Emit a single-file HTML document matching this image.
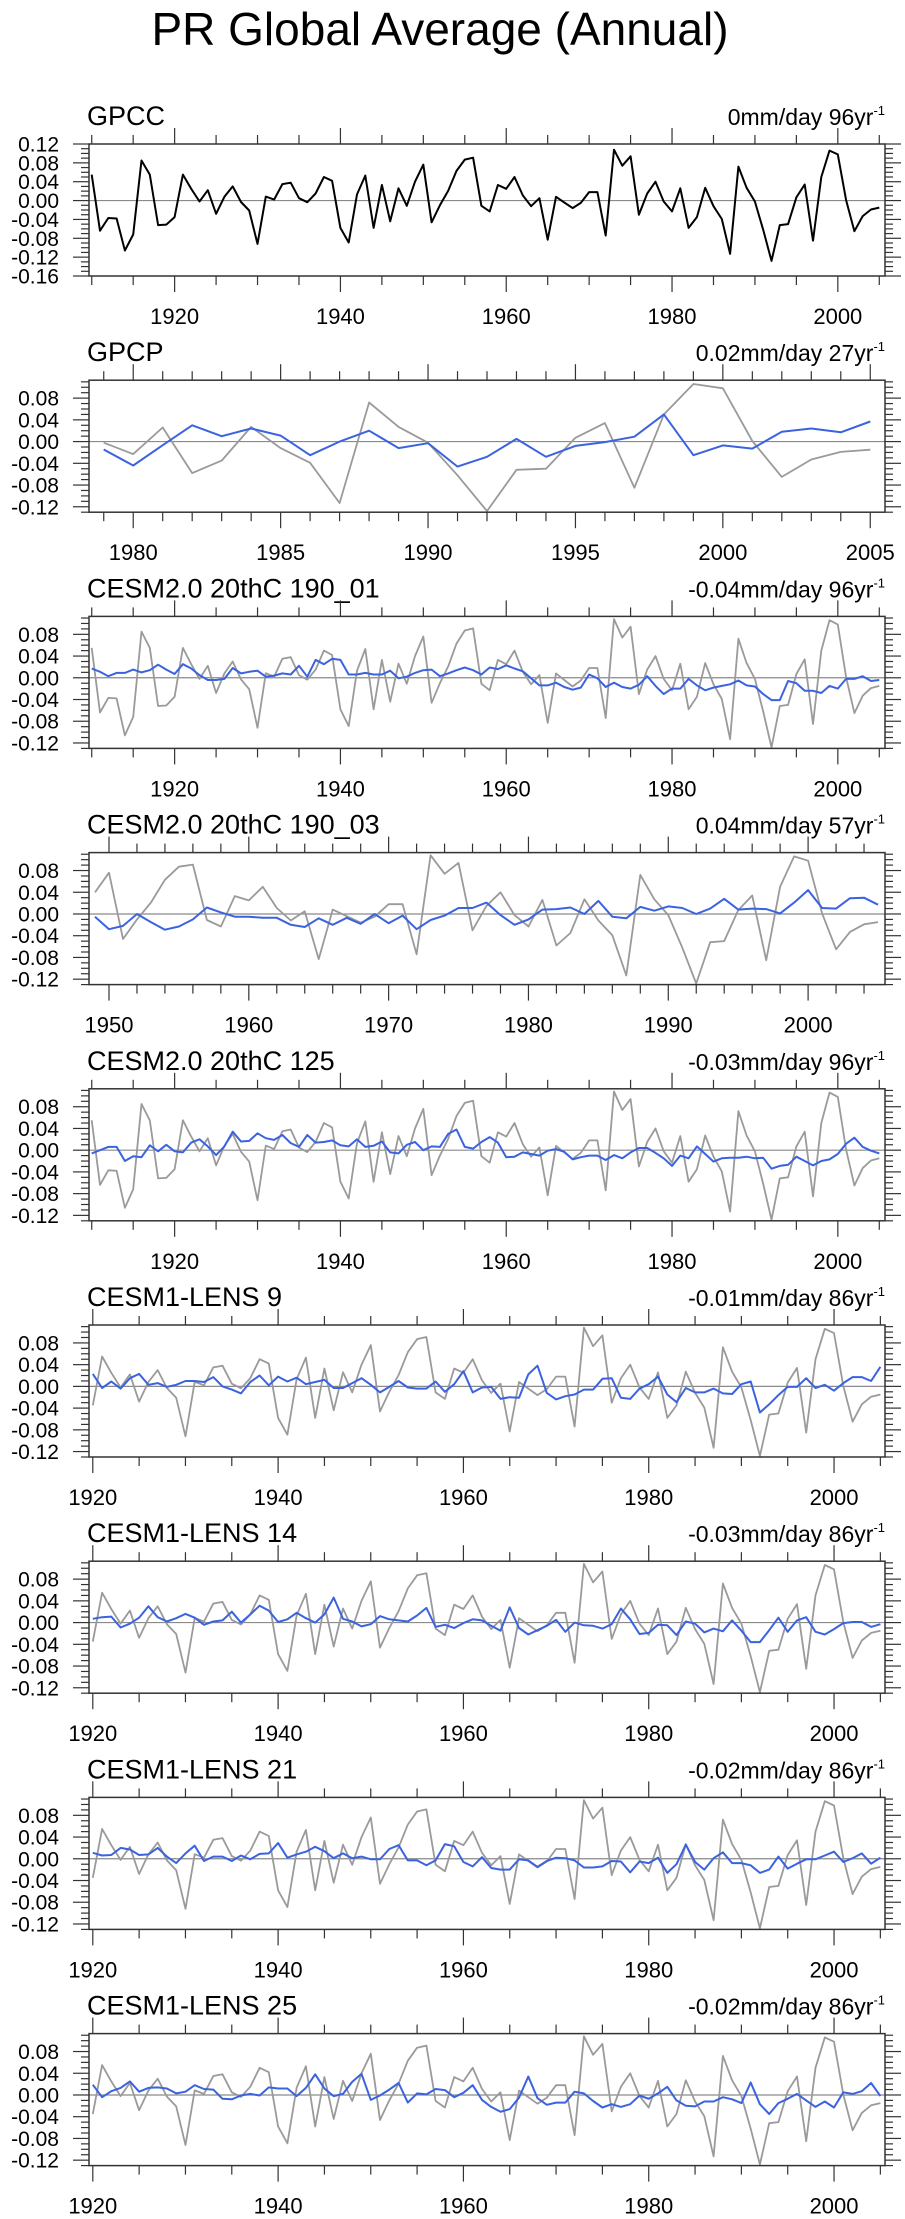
<!DOCTYPE html>
<html><head><meta charset="utf-8"><title>PR Global Average (Annual)</title>
<style>
html,body{margin:0;padding:0;background:#fff;}
svg{display:block;font-family:"Liberation Sans",Arial,sans-serif;}
</style></head>
<body>
<svg id="fig" width="905" height="2219" viewBox="0 0 905 2219" xmlns="http://www.w3.org/2000/svg">
<text x="440" y="45" font-size="46" text-anchor="middle" fill="#000">PR Global Average (Annual)</text>
</svg>
<script>
// Observed GPCC series, 1910-2005
const obsStartYear = 1910;
const obsValues = [0.055,-0.064,-0.037,-0.038,-0.106,-0.072,0.085,0.055,-0.052,-0.051,
-0.035,0.055,0.025,-0.002,0.022,-0.028,0.008,0.030,-0.003,-0.021,
-0.092,0.0085,0.002,0.035,0.038,0.005,-0.0035,0.015,0.050,0.042,
-0.058,-0.089,0.013,0.053,-0.058,0.033,-0.044,0.026,-0.011,0.040,
0.076,-0.046,-0.010,0.021,0.063,0.087,0.091,-0.011,-0.023,0.033,
0.025,0.050,0.011,-0.012,0.005,-0.083,0.008,-0.004,-0.016,-0.005,
0.018,0.018,-0.074,0.108,0.074,0.094,-0.030,0.015,0.040,-0.002,
-0.023,0.026,-0.058,-0.035,0.027,-0.012,-0.039,-0.113,0.072,0.027,
-0.002,-0.062,-0.128,-0.052,-0.050,0.007,0.034,-0.085,0.050,0.106,
0.098,0.001,-0.065,-0.033,-0.019,-0.015];

const gpcpValues = [-0.0145,-0.044,-0.0066,0.030,0.010,0.024,0.011,-0.025,0,0.020,
-0.012,-0.003,-0.046,-0.028,0.005,-0.028,-0.008,-0.001,0.009,0.050,
-0.025,-0.007,-0.013,0.018,0.024,0.017,0.037];

const cesm190_01 = [0.017,0.011,0.003,0.009,0.009,0.015,0.010,0.014,0.024,0.015,
0.007,0.025,0.017,0.005,-0.004,-0.004,-0.002,0.018,0.008,0.011,
0.013,0.002,0.004,0.008,0.006,0.022,0.002,0.033,0.025,0.035,
0.033,0.006,0.006,0.009,0.006,0.006,0.013,-0.001,0.002,0.009,
0.014,0.015,0.003,0.008,0.014,0.019,0.014,0.006,0.019,0.016,
0.023,0.017,0.012,-0.001,-0.014,-0.014,-0.009,-0.017,-0.022,-0.018,
0.006,-0.001,-0.017,-0.009,-0.017,-0.020,-0.013,0.003,-0.015,-0.030,
-0.020,-0.020,-0.002,-0.014,-0.023,-0.018,-0.015,-0.012,-0.005,-0.014,
-0.016,-0.030,-0.041,-0.041,-0.006,-0.010,-0.024,-0.024,-0.028,-0.015,
-0.020,-0.002,-0.002,0.003,-0.006,-0.004];

const cesm190_03 = [-0.005,-0.028,-0.022,0,-0.015,-0.029,-0.023,-0.010,0.012,0.003,
-0.005,-0.005,-0.007,-0.007,-0.020,-0.024,-0.008,-0.020,-0.007,-0.018,
0,-0.017,-0.003,-0.028,-0.011,-0.003,0.011,0.011,0.021,-0.002,
-0.020,-0.010,0.008,0.009,0.012,0,0.024,-0.005,-0.008,0.013,
0.006,0.014,0.011,0,0.010,0.028,0.008,0.010,0.009,0.001,
0.021,0.044,0.011,0.010,0.029,0.030,0.017];

const cesm125 = [-0.006,0,0.006,0.006,-0.020,-0.011,-0.013,0.009,-0.002,0.010,
-0.002,-0.004,0.014,0.020,0.007,-0.009,0.007,0.034,0.016,0.017,
0.031,0.022,0.019,0.028,0.013,0.006,0.028,0.014,0.015,0.018,
0.009,0.007,0.020,0.006,0.008,0.016,-0.004,-0.006,0.010,0.015,
0,0.007,0.006,0.030,0.038,0.006,0.003,0.015,0.024,0.014,
-0.013,-0.012,-0.004,-0.007,-0.010,-0.001,0.002,-0.003,-0.017,-0.013,
-0.010,-0.010,-0.018,-0.009,-0.015,-0.004,0.004,0.004,-0.005,-0.015,
-0.029,-0.010,-0.015,0.007,-0.007,-0.021,-0.015,-0.014,-0.014,-0.012,
-0.015,-0.014,-0.034,-0.029,-0.027,-0.012,-0.020,-0.028,-0.020,-0.017,
-0.007,0.012,0.023,0.006,-0.001,-0.006];

const lens9 = [0.023,-0.003,0.009,-0.004,0.015,0.023,0.003,0.006,-0.001,0.003,
0.010,0.010,0.008,0.017,0,-0.006,-0.013,0.008,0.020,0.002,
0.018,0.009,0.016,0.004,0.008,0.012,-0.003,-0.003,0.006,0.015,
0.003,-0.011,-0.001,0.010,-0.002,-0.004,-0.004,0.009,-0.010,0.004,
0.028,-0.011,-0.002,-0.001,-0.023,-0.020,-0.021,0.022,0.038,-0.012,
-0.024,-0.018,-0.015,-0.006,-0.006,0.014,0.015,-0.021,-0.023,-0.004,
0.004,0.018,-0.015,-0.029,-0.003,-0.011,-0.011,-0.004,-0.013,-0.014,
0.004,0.009,-0.048,-0.033,-0.016,-0.001,-0.001,0.015,-0.003,0.003,
-0.008,0.006,0.017,0.017,0.010,0.036];

const lens14 = [0.007,0.010,0.011,-0.009,-0.002,0.009,0.030,0.010,0.002,0.008,
0.016,0.009,-0.004,0.002,0.004,0.020,0,0.015,0.031,0.022,
0.001,0.006,0.018,0.008,0,0.015,0.046,0.007,0.002,-0.007,
-0.003,0.012,0.006,0.004,0.002,0.013,0.027,-0.008,-0.004,-0.010,
-0.001,0.006,0.004,-0.006,-0.015,0.028,-0.010,-0.022,-0.014,-0.006,
0.005,-0.017,0,-0.005,-0.006,-0.011,-0.003,0.026,0.006,-0.021,
-0.019,-0.004,-0.005,-0.023,0.002,-0.002,-0.018,-0.011,-0.016,0.004,
-0.015,-0.036,-0.036,-0.014,0.009,-0.017,0.004,0.010,-0.017,-0.022,
-0.012,-0.001,0.001,0.001,-0.008,-0.003];

const lens21 = [0.011,0.006,0.007,0.020,0.017,0.007,0.008,0.020,0.004,-0.008,
0.010,0.024,-0.004,0.004,0.004,-0.004,0.006,-0.001,0.009,0.010,
0.029,0.002,0.008,0.013,0.022,0.014,0.001,0.010,0.001,0.004,
-0.001,-0.001,0.018,0.025,-0.003,-0.003,-0.012,-0.003,0.027,0.023,
-0.006,-0.014,0.003,-0.017,-0.020,-0.020,-0.001,-0.003,-0.015,-0.004,
0.002,0.001,-0.003,-0.016,-0.016,-0.014,-0.004,-0.005,-0.025,-0.005,
-0.008,0.002,-0.026,-0.010,0.026,-0.006,-0.020,0.001,0.012,-0.008,
-0.008,-0.012,-0.026,-0.020,0.004,-0.018,-0.009,-0.001,-0.001,0.006,
0.013,-0.006,0.001,0.010,-0.009,0.002];

const lens25 = [0.019,-0.004,0.007,0.013,0.025,0.006,0.013,0.014,0.012,0.003,
0.006,0.018,0.011,0.010,-0.007,-0.008,-0.001,0.002,-0.001,0.014,
0.012,0.012,-0.002,0.013,0.038,0.012,-0.002,0.002,0.024,0.039,
-0.009,-0.001,0.010,0.022,-0.014,0.003,0.001,0.011,0.009,-0.004,
0.004,0.018,-0.009,-0.022,-0.031,-0.026,-0.005,0.034,-0.006,-0.018,
-0.014,-0.014,0.006,0.003,-0.011,-0.023,-0.017,-0.022,-0.017,-0.001,
-0.007,0.003,0.015,-0.010,-0.020,-0.021,-0.012,-0.012,-0.004,-0.008,
-0.015,0.023,-0.017,-0.035,-0.015,-0.007,0.002,-0.010,-0.022,-0.012,
-0.023,0.005,0.002,0.007,0.022,-0.002];

const panelTitles = ["GPCC","GPCP","CESM2.0 20thC 190_01","CESM2.0 20thC 190_03","CESM2.0 20thC 125","CESM1-LENS 9","CESM1-LENS 14","CESM1-LENS 21","CESM1-LENS 25"];
const trendLabels = ["0mm/day 96yr","0.02mm/day 27yr","-0.04mm/day 96yr","0.04mm/day 57yr","-0.03mm/day 96yr","-0.01mm/day 86yr","-0.03mm/day 86yr","-0.02mm/day 86yr","-0.02mm/day 86yr"];
const modelSeries = [null,gpcpValues,cesm190_01,cesm190_03,cesm125,lens9,lens14,lens21,lens25];
const seriesStart = [1910,1979,1910,1949,1910,1920,1920,1920,1920];
const yTickLabelsGPCC = ["0.12","0.08","0.04","0.00","-0.04","-0.08","-0.12","-0.16"];
const yTickLabelsOther = ["0.08","0.04","0.00","-0.04","-0.08","-0.12"];

const NS = "http://www.w3.org/2000/svg";
const svg = document.getElementById('fig');
const L = 89, R = 885, H = 132;
function mk(tag, attrs, parent){
  const e = document.createElementNS(NS, tag);
  for (const k in attrs) e.setAttribute(k, attrs[k]);
  (parent||svg).appendChild(e);
  return e;
}
const axesCfg = [
  {xmin:1909.67,xmax:2005.69,major:20,minor:5,firstMajor:1920},
  {xmin:1978.5,xmax:2005.5,major:5,minor:1,firstMajor:1980},
  {xmin:1909.67,xmax:2005.69,major:20,minor:5,firstMajor:1920},
  {xmin:1948.57,xmax:2005.5,major:10,minor:2,firstMajor:1950},
  {xmin:1909.67,xmax:2005.69,major:20,minor:5,firstMajor:1920},
  {xmin:1919.59,xmax:2005.5,major:20,minor:5,firstMajor:1920},
  {xmin:1919.59,xmax:2005.5,major:20,minor:5,firstMajor:1920},
  {xmin:1919.59,xmax:2005.5,major:20,minor:5,firstMajor:1920},
  {xmin:1919.59,xmax:2005.5,major:20,minor:5,firstMajor:1920}
];

for (let p = 0; p < 9; p++) {
  const top = 144 + 236.2 * p, bot = top + H;
  const cfg = axesCfg[p];
  const ymax = p === 0 ? 0.12 : 0.113, ymin = p === 0 ? -0.16 : -0.130;
  const xs = v => L + (v - cfg.xmin) / (cfg.xmax - cfg.xmin) * (R - L);
  const ys = v => top + (ymax - v) / (ymax - ymin) * H;
  const g = mk('g', {});
  
  

  const t = mk('text', {x: 87, y: top - 19, 'font-size': 27, fill: '#000'}, g);
  
  
  t.textContent = panelTitles[p];

  const rt = mk('text', {x: R, y: top - 19, 'font-size': 23, fill: '#000', 'text-anchor': 'end'}, g);
  
  
  rt.appendChild(document.createTextNode(trendLabels[p]));
  const sup = document.createElementNS(NS, 'tspan');
  sup.setAttribute('font-size', '13'); sup.setAttribute('dy', '-10');
  sup.textContent = '-1';
  rt.appendChild(sup);

  // y ticks
  const yt = mk('g', {stroke: '#333', 'stroke-width': 1.2}, g);
  
  
  for (let k = Math.ceil(ymin*100 - 1e-6); k <= Math.floor(ymax*100 + 1e-6); k++) {
    const y = ys(k/100), major = (k % 4 === 0);
    const len = major ? 16 : 8;
    mk('line', {x1: L - len, x2: L, y1: y, y2: y}, yt);
    mk('line', {x1: R, x2: R + len, y1: y, y2: y}, yt);
  }
  const labels = p === 0 ? yTickLabelsGPCC : yTickLabelsOther;
  labels.forEach(s => {
    const lt = mk('text', {x: 59, y: ys(parseFloat(s)) + 7.5, 'font-size': 21, 'text-anchor': 'end', fill: '#000'}, g);
    
    
    lt.textContent = s;
  });

  // x ticks
  const xt = mk('g', {stroke: '#333', 'stroke-width': 1.2}, g);
  
  
  for (let yr = Math.ceil(cfg.xmin / cfg.minor) * cfg.minor; yr <= cfg.xmax; yr += cfg.minor) {
    const x = xs(yr), major = ((yr - cfg.firstMajor) % cfg.major === 0);
    const len = major ? 16 : 9;
    mk('line', {x1: x, x2: x, y1: top - len, y2: top}, xt);
    mk('line', {x1: x, x2: x, y1: bot, y2: bot + len}, xt);
    if (major) {
      const xl = mk('text', {x: x, y: bot + 48, 'font-size': 22, 'text-anchor': 'middle', fill: '#000'}, g);
      
      
      xl.textContent = yr;
    }
  }

  // zero line
  const zl = mk('line', {x1: L, x2: R, y1: ys(0), y2: ys(0), stroke: '#8a8a8a', 'stroke-width': 1.2}, g);
  
  

  // observed line
  const s0 = seriesStart[p];
  let pts = [];
  obsValues.forEach((v, i) => { const yr = obsStartYear + i; if (yr >= s0) pts.push(xs(yr).toFixed(1) + ',' + ys(v).toFixed(1)); });
  const ol = mk('polyline', {points: pts.join(' '), fill: 'none', stroke: p === 0 ? '#000' : '#9a9a9a', 'stroke-width': p === 0 ? 2 : 1.8, 'stroke-linejoin': 'round'}, g);
  
  

  if (modelSeries[p]) {
    const mp = modelSeries[p].map((v, i) => xs(s0 + i).toFixed(1) + ',' + ys(v).toFixed(1));
    const bl = mk('polyline', {points: mp.join(' '), fill: 'none', stroke: '#3b63e0', 'stroke-width': 2, 'stroke-linejoin': 'round'}, g);
    
    
  }

  const box = mk('rect', {x: L, y: top, width: R - L, height: H, fill: 'none', stroke: '#333', 'stroke-width': 1.5}, g);
  
  
}
</script>
</body></html>
